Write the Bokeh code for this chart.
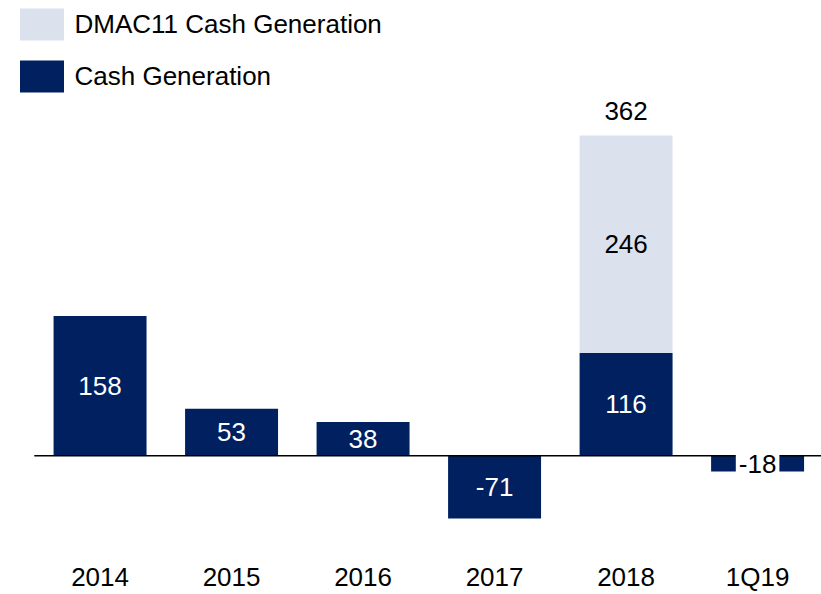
from bokeh.plotting import figure
from bokeh.models import ColumnDataSource, Range1d, Legend, LegendItem
from bokeh.core.properties import value
from bokeh.embed import file_html
from bokeh.resources import INLINE

categories = ["2014", "2015", "2016", "2017", "2018", "1Q19"]
cash_generation = [158, 53, 38, -71, 116, -18]
dmac11_cash_generation = [0, 0, 0, 0, 246, 0]
totals = [158, 53, 38, -71, 362, -18]

FONT = "Liberation Sans Narrow, Arial Narrow, Liberation Sans"
FS = "26px"
DARK = "#002060"
LIGHT = "#DCE2ED"

xs = list(range(len(categories)))

p = figure(width=821, height=594, output_backend="svg", toolbar_location=None,
           x_range=Range1d(-0.757, 5.486), y_range=Range1d(-94.8, 514.7),
           min_border_left=0, min_border_right=0, min_border_top=0, min_border_bottom=54)
p.outline_line_color = None
p.grid.visible = False
p.yaxis.visible = False
p.background_fill_color = "white"
p.border_fill_color = "white"

src = ColumnDataSource(dict(x=xs, cash=cash_generation))
r_cash = p.vbar(x="x", top="cash", bottom=0, width=0.707, source=src,
                fill_color=DARK, line_color=None)

dm_idx = [i for i, d in enumerate(dmac11_cash_generation) if d != 0]
src_dm = ColumnDataSource(dict(
    x=[xs[i] for i in dm_idx],
    bottom=[cash_generation[i] for i in dm_idx],
    top=[cash_generation[i] + dmac11_cash_generation[i] for i in dm_idx],
    label=[str(dmac11_cash_generation[i]) for i in dm_idx],
    mid=[cash_generation[i] + dmac11_cash_generation[i] / 2 for i in dm_idx],
))
r_dm = p.vbar(x="x", top="top", bottom="bottom", width=0.707, source=src_dm,
              fill_color=LIGHT, line_color=None)

# zero line
p.segment(x0=[xs[0] - 0.5], x1=[xs[-1] + 1], y0=[0], y1=[0],
          line_color="black", line_width=1.5)

# labels inside dark bars (white)
big = [i for i, c in enumerate(cash_generation) if abs(c) >= 30]
small = [i for i, c in enumerate(cash_generation) if abs(c) < 30]
src_lab = ColumnDataSource(dict(
    x=[xs[i] for i in big],
    y=[cash_generation[i] / 2 for i in big],
    t=[str(cash_generation[i]) for i in big],
))
p.text(x="x", y="y", text="t", source=src_lab, text_color="white",
       text_font=value(FONT), text_font_size=FS,
       text_align="center", text_baseline="middle")

src_small = ColumnDataSource(dict(
    x=[xs[i] for i in small],
    y=[cash_generation[i] / 2 for i in small],
    t=[str(cash_generation[i]) for i in small],
))
p.text(x="x", y="y", text="t", source=src_small, text_color="black",
       text_font=value(FONT), text_font_size=FS,
       text_align="center", text_baseline="middle",
       background_fill_color="white", padding=3)

# DMAC11 segment labels
p.text(x="x", y="mid", text="label", source=src_dm, text_color="black",
       text_font=value(FONT), text_font_size=FS,
       text_align="center", text_baseline="middle")

# total labels above stacked bars
src_tot = ColumnDataSource(dict(
    x=[xs[i] for i in dm_idx],
    y=[totals[i] for i in dm_idx],
    t=[str(totals[i]) for i in dm_idx],
))
p.text(x="x", y="y", text="t", source=src_tot, text_color="black",
       text_font=value(FONT), text_font_size=FS,
       text_align="center", text_baseline="middle", y_offset=-25)

# x axis
p.xaxis.ticker = xs
p.xaxis.major_label_overrides = {i: c for i, c in zip(xs, categories)}
p.xaxis.axis_line_color = None
p.xaxis.major_tick_line_color = None
p.xaxis.minor_tick_line_color = None
p.xaxis.major_tick_out = 0
p.xaxis.major_tick_in = 0
p.xaxis.major_label_standoff = 22
p.xaxis.major_label_text_font = FONT
p.xaxis.major_label_text_font_size = FS
p.xaxis.major_label_text_color = "black"

legend = Legend(items=[
    LegendItem(label="DMAC11 Cash Generation", renderers=[r_dm]),
    LegendItem(label="Cash Generation", renderers=[r_cash]),
], location=(13.5, 443))
legend.border_line_color = None
legend.background_fill_alpha = 0
legend.margin = 0
legend.padding = 0
legend.glyph_width = 55
legend.glyph_height = 40
legend.label_standoff = 6
legend.spacing = 12
legend.label_text_font = FONT
legend.label_text_font_size = FS
legend.label_text_color = "black"
p.add_layout(legend, "center")

open("out.html", "w").write(file_html(p, INLINE))
